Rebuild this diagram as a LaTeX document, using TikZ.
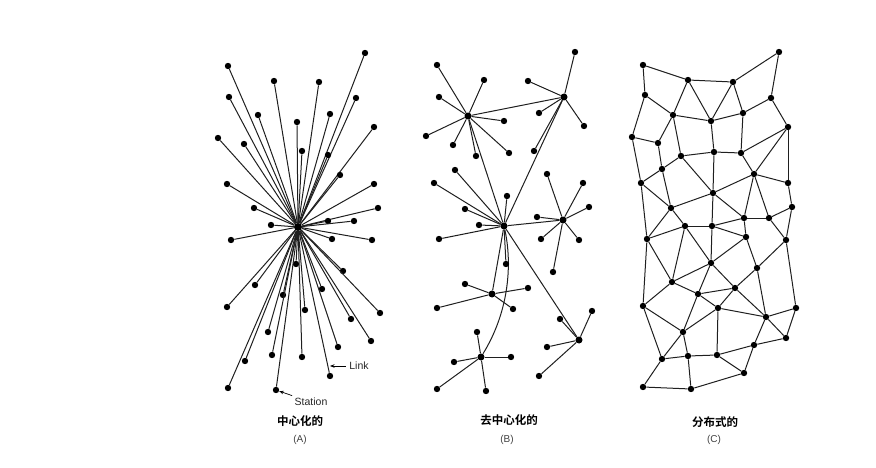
\documentclass[tikz,border=0pt]{standalone}
\usepackage{fontspec}
\setmainfont{Liberation Sans}
\newfontfamily\cjkb{Noto Sans CJK SC Bold}
\usetikzlibrary{arrows.meta}
\begin{document}
\begin{tikzpicture}[x=1pt,y=-1pt,
  dot/.style={circle,fill=black,inner sep=0pt,minimum size=6.4pt},
  hub/.style={circle,fill=black,inner sep=0pt,minimum size=7pt},
  link/.style={draw=black!88,line width=1pt},
  captxt/.style={font=\cjkb\fontsize{11.5}{13}\selectfont},
  lab/.style={font=\fontsize{10}{11}\selectfont,text=black!75},
  ann/.style={font=\fontsize{10.5}{12}\selectfont,text=black!85}]
\useasboundingbox (0,0) rectangle (876,468);
% ---------------- Panel A (centralized) ----------------
\node[hub,minimum size=8pt] (A0) at (298,227) {};
\foreach \n/\x/\y in {a1/228/66,a2/365/53,a3/274/81,a4/319/82,a5/229/97,a6/356/98,
  a7/258/115,a8/330/114,a9/297/122,a10/374/127,a11/218/138,a12/244/144,a13/302/151,
  a14/328/155,a15/340/175,a16/227/184,a17/374/184,a18/254/208,a19/378/208,a20/328/221,
  a21/354/221,a22/271/225,a23/231/240,a24/332/239,a25/372/240,a26/296/264,a27/343/271,
  a28/255/285,a29/322/289,a30/283/295,a31/227/307,a32/305/310,a33/380/313,a34/351/319,
  a35/268/332,a36/371/341,a37/338/347,a38/245/361,a39/272/355,a40/302/357,a41/330/376,
  a42/228/388,a43/276/390}{
  \node[dot] (\n) at (\x,\y) {};
  \draw[link] (A0) -- (\n);
}
\node[ann] (link) at (359,366) {Link};
\coordinate (linkend) at (330,366);
\draw[-{Stealth[length=4.5pt,width=3.5pt]},line width=0.7pt] (link.west) -- (linkend);
\node[ann] (station) at (311,402) {Station};
\draw[-{Stealth[length=4.5pt,width=3.5pt]},line width=0.7pt] (station.north west) ++(1,1) -- (a43);
\node[captxt] (capA) at (300,421) {中心化的};
\node[lab] (labA) at (300,440) {(A)};
% ---------------- Panel B (decentralized) ----------------
\node[hub] (b1) at (468,116) {};
\node[hub] (b2) at (564,97) {};
\node[hub] (b3) at (504,226) {};
\node[hub] (b4) at (563,220) {};
\node[hub] (b5) at (492,294) {};
\node[hub] (b6) at (481,357) {};
\node[hub] (b7) at (579,340) {};
\draw[link] (b1) -- (b2);
\draw[link] (b1) -- (b3);
\draw[link] (b2) -- (b3);
\draw[link] (b3) -- (b4);
\draw[link] (b3) -- (b5);
\draw[link] (b3) -- (b7);
\draw[link] (b6) .. controls (510,310) and (512,262) .. (b3);
\foreach \h/\n/\x/\y in {b1/p1/437/65,b1/p2/484/80,b1/p3/439/97,b1/p4/504/121,b1/p5/426/136,
  b1/p6/453/145,b1/p7/476/156,b1/p8/509/153,
  b2/q1/575/52,b2/q2/528/81,b2/q3/539/113,b2/q4/584/126,b2/q5/534/151,
  b3/r1/455/170,b3/r2/434/183,b3/r3/507/196,b3/r4/465/209,b3/r5/479/225,b3/r6/439/239,b3/r7/506/264,
  b4/s1/547/174,b4/s2/583/183,b4/s3/589/207,b4/s4/537/217,b4/s5/541/239,b4/s6/579/240,b4/s7/553/272,
  b5/t1/465/284,b5/t2/528/288,b5/t3/437/308,b5/t4/513/309,
  b6/u1/477/332,b6/u2/511/357,b6/u3/454/362,b6/u4/437/389,b6/u5/486/391,
  b7/v1/592/311,b7/v2/560/319,b7/v3/547/347,b7/v4/539/376}{
  \node[dot] (\n) at (\x,\y) {};
  \draw[link] (\h) -- (\n);
}
\node[captxt] (capB) at (509,420) {去中心化的};
\node[lab] (labB) at (507,440) {(B)};
% ---------------- Panel C (distributed) ----------------
\foreach \n/\x/\y in {c1/643/65,c2/779/52,c3/688/80,c4/733/82,c5/645/95,c6/771/98,
  c7/673/115,c8/711/121,c9/743/113,c10/788/127,c11/632/137,c12/658/143,c13/714/152,
  c14/741/153,c15/681/156,c16/662/169,c17/754/174,c18/641/183,c19/788/183,c20/713/193,
  c21/671/208,c22/792/207,c23/744/218,c24/769/218,c25/685/226,c26/712/226,c27/647/239,
  c28/746/237,c29/786/240,
  d1/711/263,d2/757/268,d3/672/282,d4/735/288,d5/698/294,d6/643/306,d7/718/308,
  d8/796/308,d9/766/317,d10/683/332,d11/786/338,d12/754/345,d13/662/359,d14/688/356,
  d15/717/355,d16/744/373,d17/643/387,d18/691/389}{
  \node[dot] (\n) at (\x,\y) {};
}
\foreach \a/\b in {c1/c3,c3/c4,c4/c2,c1/c5,c2/c6,c3/c7,c3/c8,c4/c8,c4/c9,c5/c7,c5/c11,
  c7/c8,c8/c9,c6/c9,c6/c10,c7/c12,c7/c15,c11/c12,c8/c13,c9/c14,c13/c15,c13/c14,c10/c14,
  c10/c17,c10/c19,c11/c18,c12/c16,c15/c16,c16/c18,c15/c20,c16/c21,c18/c21,c18/c27,
  c13/c20,c14/c17,c17/c19,c17/c20,c17/c23,c17/c24,c19/c22,c20/c21,c20/c23,c20/c26,
  c21/c25,c21/c27,c22/c24,c22/c29,c23/c24,c23/c26,c23/c28,c24/c29,c25/c26,c25/c27,
  c26/c28,c25/d1,c26/d1,c28/d1,c28/d2,c29/d2,c29/d8,c25/d3,c27/d3,c27/d6,
  d1/d3,d1/d4,d1/d5,d2/d4,d2/d9,d3/d5,d3/d6,d4/d5,d4/d7,d4/d9,d5/d7,d5/d10,d6/d10,
  d6/d13,d7/d9,d7/d10,d7/d15,d8/d9,d8/d11,d9/d11,d9/d12,d10/d13,d10/d14,d11/d12,
  d12/d15,d12/d16,d13/d14,d14/d15,d13/d17,d14/d18,d15/d16,d16/d18,d17/d18}{
  \draw[link] (\a) -- (\b);
}
\node[captxt] (capC) at (715,422) {分布式的};
\node[lab] (labC) at (714,440) {(C)};
\end{tikzpicture}
\end{document}
